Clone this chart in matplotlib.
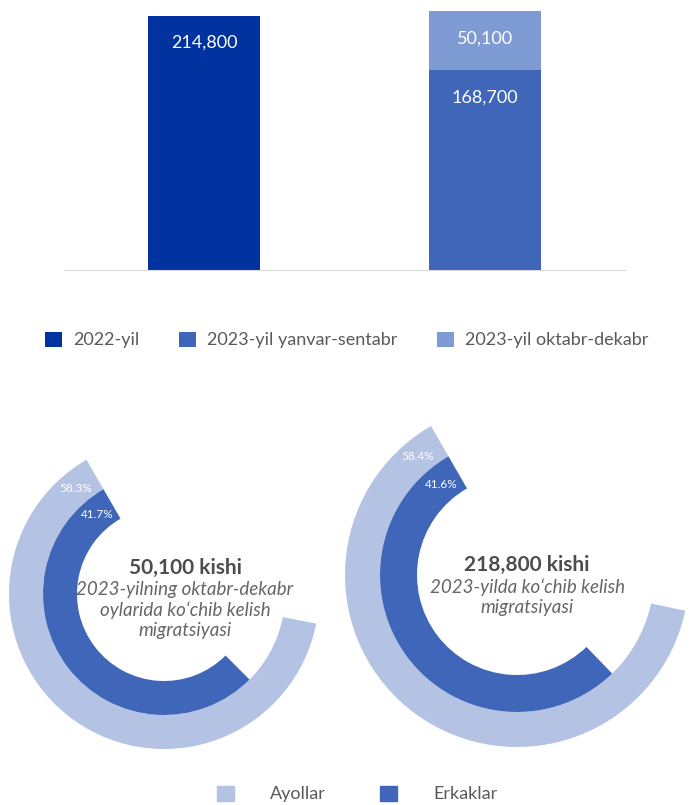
import matplotlib
matplotlib.use("Agg")
import numpy as np
import matplotlib.pyplot as plt
from matplotlib.patches import Patch

# bar chart data
years = ["2022-yil", "2023-yil"]
jan_sep = [214800, 168700]   # 2022 full year / 2023 Jan-Sep
oct_dec = [0, 50100]         # 2023 Oct-Dec
bar_legend = ["2022-yil", "2023-yil yanvar-sentabr", "2023-yil oktabr-dekabr"]

# radial charts data (share of women / men)
donut_totals = ["50,100 kishi", "218,800 kishi"]
donut_notes = ["2023-yilning oktabr-dekabr\noylarida ko\u2018chib kelish\nmigratsiyasi",
               "2023-yilda ko\u2018chib kelish\nmigratsiyasi"]
women_pct = [58.3, 58.4]
men_pct = [41.7, 41.6]
# arc sweep in degrees as drawn in the picture
women_sweep = [229, 228]
men_sweep = [195, 194]
donut_legend = ["Ayollar", "Erkaklar"]

C_2022 = "#0033A0"
C_JANSEP = "#3F66B8"
C_OCTDEC = "#7F9BD4"
C_WOMEN = "#B4C3E3"
C_MEN = "#3F66B8"
TXT = "#595959"

plt.rcParams["font.family"] = ["Lato", "DejaVu Sans"]

W, H = 689, 805
fig = plt.figure(figsize=(W / 100, H / 100), dpi=100)


def px_box(left, top, width, height):
    """figure-fraction rect from pixel box (top-left origin)"""
    return [left / W, (H - top - height) / H, width / W, height / H]


# ---- bar chart ----
ax = fig.add_axes(px_box(64, 0, 561, 270))
b1 = ax.bar([0], [jan_sep[0]], width=0.4, color=C_2022)
b2 = ax.bar([1], [jan_sep[1]], width=0.4, color=C_JANSEP)
b3 = ax.bar([1], [oct_dec[1]], bottom=[jan_sep[1]], width=0.4, color=C_OCTDEC)
ax.set_xlim(-0.5, 1.5)
ax.set_ylim(0, 228300)
for s in ["top", "right", "left"]:
    ax.spines[s].set_visible(False)
ax.spines["bottom"].set_color("#D9D9D9")
ax.set_xticks([])
ax.set_yticks([])

segments = [(0, 0, jan_sep[0]), (1, 0, jan_sep[1]), (1, jan_sep[1], oct_dec[1])]
for x, base, val in segments:
    ax.annotate(f"{val:,}", xy=(x, base + val), xytext=(0, -19.5),
                textcoords="offset points", ha="center", va="center",
                color="white", fontsize=13)

fig.legend([b1, b2, b3], bar_legend, loc="center",
           bbox_to_anchor=(347 / W, 1 - 340 / H), ncol=3, frameon=False,
           fontsize=13, labelcolor=TXT, handlelength=0.95, handleheight=0.95,
           handletextpad=0.6, columnspacing=2.2)

# ---- radial charts ----
# centre x, centre y, outer radius, ring widths (pixels)
layout = [(164, 594, 155, 34, 34), (517, 575, 172, 35, 37)]
text_pos = [(185, 568), (527, 565)]

for i, (cx, cy, R, w_out, w_in) in enumerate(layout):
    dax = fig.add_axes(px_box(cx - R, cy - R, 2 * R, 2 * R))
    dax.pie([women_sweep[i], 360 - women_sweep[i]], radius=1,
            colors=[C_WOMEN, "none"], startangle=120, counterclock=True,
            wedgeprops=dict(width=w_out / R, linewidth=0))
    r_in = (R - w_out) / R
    dax.pie([men_sweep[i], 360 - men_sweep[i]], radius=r_in,
            colors=[C_MEN, "none"], startangle=120, counterclock=True,
            wedgeprops=dict(width=w_in / R, linewidth=0))
    dax.set_xlim(-1, 1)
    dax.set_ylim(-1, 1)
    dax.set_aspect("equal")
    dax.axis("off")

    # percentage labels near the start of each arc
    ang = np.deg2rad(130)
    r_mid_out = 1 - w_out / R / 2
    r_mid_in = r_in - w_in / R / 2
    dax.text(r_mid_out * np.cos(ang), r_mid_out * np.sin(ang), f"{women_pct[i]}%",
             ha="center", va="center", color="white", fontsize=8.5)
    dax.text(r_mid_in * np.cos(ang), r_mid_in * np.sin(ang), f"{men_pct[i]}%",
             ha="center", va="center", color="white", fontsize=8.5)

    tx, ty = text_pos[i]
    fig.text(tx / W, 1 - ty / H, donut_totals[i], ha="center", va="center",
             fontsize=15, fontweight="bold", color="#4D4D4D")
    fig.text(tx / W, 1 - (ty + 13) / H, donut_notes[i], ha="center", va="top",
             fontsize=13.5, style="italic", color="#666666", linespacing=1.2)

fig.legend([Patch(color=C_WOMEN), Patch(color=C_MEN)], donut_legend,
           loc="center", bbox_to_anchor=(357 / W, 1 - 794 / H), ncol=2,
           frameon=False, fontsize=13, labelcolor=TXT, handlelength=0.95,
           handleheight=0.95, handletextpad=2.0, columnspacing=3.0)

fig.savefig("out.png", dpi=100)
